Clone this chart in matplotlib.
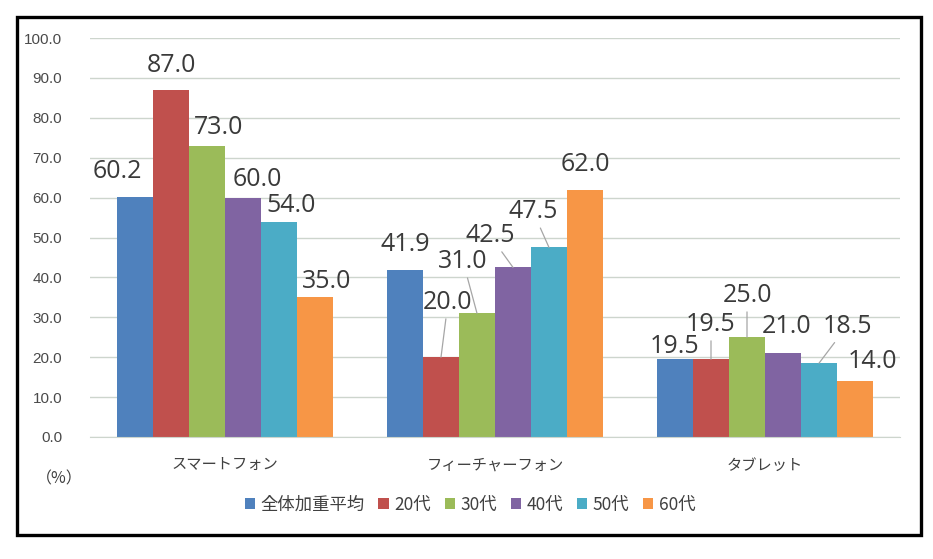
import matplotlib
matplotlib.use("Agg")
import matplotlib.pyplot as plt
from matplotlib.patches import Patch, Rectangle
import numpy as np

categories = ["スマートフォン", "フィーチャーフォン", "タブレット"]
series_names = ["全体加重平均", "20代", "30代", "40代", "50代", "60代"]
avg_all = [60.2, 41.9, 19.5]
age_20s = [87.0, 20.0, 19.5]
age_30s = [73.0, 31.0, 25.0]
age_40s = [60.0, 42.5, 21.0]
age_50s = [54.0, 47.5, 18.5]
age_60s = [35.0, 62.0, 14.0]
series_values = [avg_all, age_20s, age_30s, age_40s, age_50s, age_60s]

colors = ["#4F81BD", "#C0504D", "#9BBB59", "#8064A2", "#4BACC6", "#F79646"]

# label offsets in pixels (dx, dy) from the bar top, per series and category
label_offsets = [
    [(-18, 25), (0, 25), (0, 13)],
    [(0, 24), (7, 55), (0, 35)],
    [(12, 18), (-14, 52), (0, 42)],
    [(14, 18), (-23, 32), (4, 27)],
    [(12, 16.5), (-16, 36), (28, 37)],
    [(12, 16), (0, 25), (17, 20)],
]
leader = [
    [False, False, False],
    [False, True, True],
    [False, True, True],
    [False, True, False],
    [False, True, True],
    [False, False, False],
]

cjk = ["Noto Sans CJK JP", "DejaVu Sans"]

fig = plt.figure(figsize=(9.33, 5.59), dpi=100)
ax = fig.add_axes([90 / 933, 1 - 437 / 559, 810 / 933, 399 / 559])

x = np.arange(len(categories))
w = 0.8 / 6
for i, vals in enumerate(series_values):
    pos = x + (i - 2.5) * w
    ax.bar(pos, vals, width=w, color=colors[i], zorder=2)
    for j, v in enumerate(vals):
        dx, dy = label_offsets[i][j]
        arrow = None
        if leader[i][j]:
            arrow = dict(arrowstyle="-", color="#A6A6A6", lw=0.9, shrinkA=1, shrinkB=0)
        ax.annotate(f"{v:.1f}", xy=(pos[j], v), xytext=(dx, dy),
                    textcoords="offset pixels", ha="center", va="center",
                    fontsize=18, family="Open Sans", color="#3A3A3A",
                    arrowprops=arrow, zorder=3)

ax.set_xlim(-0.5, 2.5)
ax.set_ylim(0, 100)
ax.set_yticks(np.arange(0, 101, 10))
ax.set_yticklabels([f"{t:.1f}" for t in np.arange(0, 101, 10)],
                   family="Liberation Sans", fontsize=11, color="#4A4A4A")
ax.set_xticks(x)
ax.set_xticklabels(categories, family=cjk, fontsize=11, color="#404040")
ax.tick_params(axis="y", length=0, pad=20)
ax.tick_params(axis="x", length=0, pad=14)
ax.grid(axis="y", color="#CDD5CD", lw=1, zorder=0)
for s in ["top", "right", "left"]:
    ax.spines[s].set_visible(False)
ax.spines["bottom"].set_color("#CDD5CD")

fig.text(59 / 933, 1 - 479 / 559, "（%）", family=cjk, fontsize=11.5,
         color="#404040", ha="center", va="center")

handles = [Patch(facecolor=c) for c in colors]
fig.legend(handles, series_names, loc="center", bbox_to_anchor=(470 / 933, 1 - 505 / 559),
           ncol=6, frameon=False, prop={"family": cjk, "size": 12.5},
           handlelength=0.6, handleheight=0.6, handletextpad=0.3,
           columnspacing=0.8, labelcolor="#404040")

fig.add_artist(Rectangle((16.5 / 933, 1 - 534.5 / 559), (920.5 - 16.5) / 933,
                         (534.5 - 16.5) / 559, transform=fig.transFigure,
                         fill=False, edgecolor="black", lw=2.4))

fig.savefig("out.png", dpi=100)
